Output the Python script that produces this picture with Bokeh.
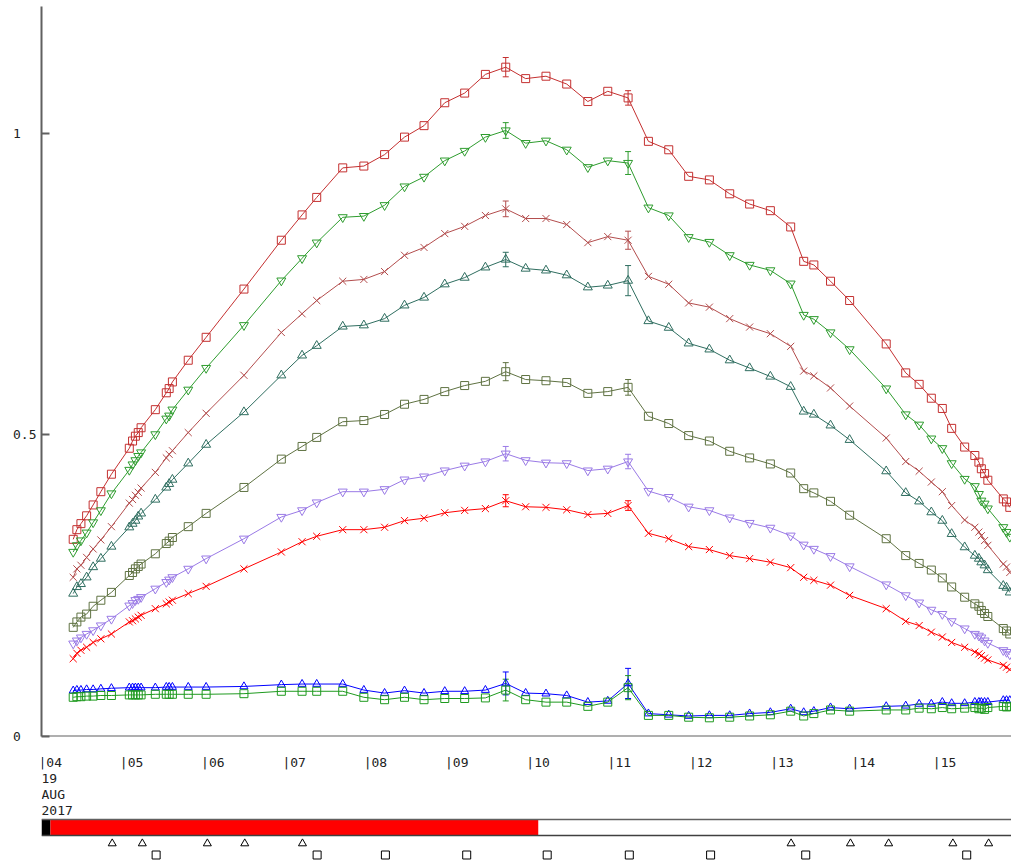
from bokeh.plotting import figure
from bokeh.models import (Range1d, ColumnDataSource, Whisker, TeeHead, Span, FixedTicker)
from bokeh.layouts import column
from bokeh.embed import file_html
from bokeh.resources import INLINE
from bokeh.core.properties import value

# ---------------- data ----------------
HOURS = [4.39, 4.435, 4.485, 4.555, 4.635, 4.73, 4.86, 5.08, 5.12, 5.155, 5.19, 5.225,
         5.40, 5.535, 5.57, 5.61, 5.805, 6.025, 6.49,
         6.95, 7.205, 7.385, 7.705, 7.965, 8.22, 8.465, 8.705, 8.96, 9.205, 9.46, 9.71,
         9.955, 10.205, 10.46, 10.72, 10.965, 11.215,
         11.465, 11.715, 11.96, 12.215, 12.465, 12.71, 12.965, 13.215, 13.375, 13.50,
         13.705, 13.94, 14.39, 14.63, 14.795, 14.945, 15.08, 15.195, 15.355, 15.48,
         15.53, 15.56, 15.60, 15.64, 15.83, 15.87, 15.91]

S1 = [0.327, 0.343, 0.353, 0.366, 0.384, 0.406, 0.435, 0.478, 0.490, 0.498, 0.504, 0.512,
      0.542, 0.570, 0.577, 0.588, 0.624, 0.662, 0.742,
      0.823, 0.865, 0.894, 0.943, 0.946, 0.965, 0.994, 1.013, 1.051, 1.067, 1.098, 1.110,
      1.091, 1.095, 1.082, 1.053, 1.070, 1.059,
      0.987, 0.973, 0.929, 0.923, 0.900, 0.883, 0.872, 0.845, 0.788, 0.782, 0.755, 0.723,
      0.651, 0.603, 0.584, 0.561, 0.544, 0.511, 0.480, 0.466, 0.455, 0.444, 0.436, 0.425,
      0.394, 0.389, 0.380]
S2 = [0.306, 0.317, 0.325, 0.338, 0.355, 0.375, 0.403, 0.442, 0.451, 0.458, 0.465, 0.471,
      0.501, 0.527, 0.532, 0.542, 0.575, 0.611, 0.682,
      0.756, 0.793, 0.819, 0.861, 0.863, 0.881, 0.912, 0.928, 0.955, 0.971, 0.994, 1.005,
      0.984, 0.988, 0.973, 0.944, 0.955, 0.951,
      0.877, 0.864, 0.828, 0.820, 0.798, 0.782, 0.773, 0.751, 0.699, 0.692, 0.670, 0.642,
      0.577, 0.534, 0.517, 0.494, 0.478, 0.453, 0.427, 0.415, 0.402, 0.391, 0.386, 0.378,
      0.347, 0.339, 0.331]
S3 = [0.264, 0.278, 0.284, 0.297, 0.311, 0.326, 0.348, 0.387, 0.393, 0.400, 0.405, 0.412,
      0.438, 0.462, 0.468, 0.474, 0.504, 0.536, 0.599,
      0.670, 0.701, 0.723, 0.755, 0.758, 0.771, 0.798, 0.811, 0.834, 0.846, 0.864, 0.875,
      0.859, 0.859, 0.849, 0.819, 0.829, 0.823,
      0.763, 0.750, 0.719, 0.712, 0.693, 0.679, 0.668, 0.647, 0.606, 0.598, 0.578, 0.548,
      0.495, 0.456, 0.440, 0.422, 0.406, 0.383, 0.359, 0.347, 0.339, 0.333, 0.325, 0.317,
      0.286, 0.281, 0.272]
S4 = [0.237, 0.248, 0.253, 0.264, 0.281, 0.295, 0.315, 0.347, 0.353, 0.358, 0.365, 0.370,
      0.393, 0.413, 0.419, 0.426, 0.453, 0.484, 0.538,
      0.599, 0.632, 0.648, 0.680, 0.682, 0.693, 0.715, 0.728, 0.750, 0.761, 0.778, 0.791,
      0.776, 0.773, 0.765, 0.745, 0.748, 0.756,
      0.689, 0.678, 0.652, 0.642, 0.624, 0.611, 0.597, 0.580, 0.539, 0.534, 0.516, 0.492,
      0.440, 0.404, 0.390, 0.372, 0.358, 0.336, 0.314, 0.300, 0.295, 0.289, 0.284, 0.276,
      0.250, 0.247, 0.239]
S5 = [0.181, 0.190, 0.198, 0.203, 0.216, 0.226, 0.239, 0.267, 0.272, 0.278, 0.282, 0.286,
      0.303, 0.320, 0.324, 0.330, 0.348, 0.370, 0.413,
      0.460, 0.481, 0.496, 0.522, 0.524, 0.534, 0.551, 0.559, 0.572, 0.582, 0.589, 0.605,
      0.592, 0.590, 0.587, 0.569, 0.572, 0.579,
      0.531, 0.519, 0.499, 0.490, 0.473, 0.462, 0.452, 0.437, 0.411, 0.404, 0.390, 0.367,
      0.328, 0.300, 0.287, 0.276, 0.263, 0.248, 0.231, 0.220, 0.216, 0.209, 0.204, 0.199,
      0.179, 0.175, 0.170]
S6 = [0.154, 0.159, 0.164, 0.170, 0.176, 0.184, 0.195, 0.217, 0.221, 0.226, 0.228, 0.231,
      0.245, 0.256, 0.260, 0.264, 0.278, 0.295, 0.328,
      0.364, 0.375, 0.388, 0.406, 0.406, 0.410, 0.426, 0.431, 0.441, 0.449, 0.456, 0.469,
      0.458, 0.454, 0.453, 0.441, 0.444, 0.456,
      0.407, 0.397, 0.381, 0.375, 0.363, 0.354, 0.346, 0.333, 0.318, 0.311, 0.299, 0.282,
      0.252, 0.234, 0.222, 0.210, 0.203, 0.191, 0.179, 0.170, 0.167, 0.164, 0.159, 0.155,
      0.143, 0.140, 0.136]
S7 = [0.129, 0.138, 0.143, 0.148, 0.156, 0.162, 0.170, 0.190, 0.192, 0.195, 0.198, 0.201,
      0.212, 0.220, 0.223, 0.226, 0.237, 0.249, 0.278,
      0.306, 0.323, 0.332, 0.343, 0.343, 0.347, 0.358, 0.362, 0.371, 0.375, 0.378, 0.391,
      0.381, 0.380, 0.376, 0.368, 0.370, 0.383,
      0.337, 0.328, 0.315, 0.310, 0.300, 0.295, 0.289, 0.280, 0.264, 0.259, 0.251, 0.234,
      0.212, 0.191, 0.184, 0.173, 0.165, 0.156, 0.148, 0.140, 0.137, 0.134, 0.130, 0.127,
      0.118, 0.115, 0.111]
S8 = [0.076, 0.077, 0.077, 0.078, 0.078, 0.079, 0.080, 0.081, 0.081, 0.081, 0.081, 0.081,
      0.081, 0.082, 0.082, 0.082, 0.082, 0.082, 0.083,
      0.086, 0.087, 0.087, 0.087, 0.077, 0.072, 0.076, 0.072, 0.075, 0.075, 0.077, 0.088,
      0.072, 0.071, 0.068, 0.057, 0.059, 0.088,
      0.038, 0.036, 0.034, 0.035, 0.035, 0.038, 0.040, 0.046, 0.040, 0.042, 0.048, 0.046,
      0.050, 0.051, 0.054, 0.054, 0.057, 0.055, 0.055, 0.057, 0.057, 0.057, 0.057, 0.057,
      0.060, 0.060, 0.060]
S9 = [0.065, 0.066, 0.066, 0.067, 0.067, 0.068, 0.068, 0.069, 0.069, 0.069, 0.069, 0.069,
      0.070, 0.070, 0.070, 0.070, 0.070, 0.070, 0.071,
      0.075, 0.075, 0.075, 0.075, 0.065, 0.061, 0.065, 0.061, 0.063, 0.063, 0.064, 0.077,
      0.061, 0.057, 0.057, 0.050, 0.057, 0.081,
      0.035, 0.035, 0.032, 0.031, 0.032, 0.034, 0.036, 0.042, 0.034, 0.038, 0.044, 0.042,
      0.044, 0.044, 0.047, 0.046, 0.048, 0.046, 0.047, 0.048, 0.046, 0.047, 0.045, 0.048,
      0.050, 0.049, 0.050]

# error bars (half-widths) at two sample times
ERR_T = [9.71, 11.215]
E1 = [0.016, 0.012]
E2 = [0.013, 0.019]
E3 = [0.013, 0.015]
E4 = [0.012, 0.025]
E5 = [0.015, 0.013]
E6 = [0.012, 0.012]
E7 = [0.010, 0.008]
E8 = [0.019, 0.025]
E9 = [0.018, 0.020]

Y_TICKS = [0, 0.5, 1]
Y_TICK_LABELS = ["0", "0.5", "1"]
X_TICKS = [4, 5, 6, 7, 8, 9, 10, 11, 12, 13, 14, 15]
X_TICK_LABELS = ["|04", "|05", "|06", "|07", "|08", "|09", "|10", "|11", "|12", "|13", "|14", "|15"]
DATE_LINES = ["19", "AUG", "2017"]

STATE_START = [4.0, 4.11]
STATE_END = [4.11, 10.11]
STATE_COLORS = ["#000000", "#ff0000"]

TRI_T = [4.87, 5.24, 6.04, 6.50, 7.21, 13.22, 13.95, 14.42, 15.21, 15.65]
SQ_T = [5.41, 7.39, 8.23, 9.23, 10.22, 11.23, 12.23, 13.40, 15.38]

X_START, X_END = 4.0, 15.931
Y_START, Y_END = 0.0, 1.2106

SERIES = [
    (S1, E1, "#c43030", "square", 8),
    (S2, E2, "#2e9c2e", "inverted_triangle", 9),
    (S3, E3, "#b34d4d", "x", 10),
    (S4, E4, "#2f6e60", "triangle", 9),
    (S5, E5, "#5f7242", "square", 8),
    (S6, E6, "#9a7ae6", "inverted_triangle", 9),
    (S7, E7, "#ff0000", "x", 10),
    (S8, E8, "#0000ff", "triangle", 8),
    (S9, E9, "#1f9a1f", "square", 8),
]

FONT = "DejaVu Sans Mono"
AXIS_COLOR = "#606060"
TEXT_COLOR = "#222222"

# left-aligned look for the y labels: pad to equal width (monospace font)
width_max = max(len(s) for s in Y_TICK_LABELS)
y_overrides = {t: s + "\u00a0" * (width_max - len(s)) for t, s in zip(Y_TICKS, Y_TICK_LABELS)}

# ---------------- main plot ----------------
xr = Range1d(X_START, X_END)
p = figure(width=1011, height=744, x_range=xr, y_range=Range1d(Y_START, Y_END),
           output_backend="svg", toolbar_location=None, x_axis_location=None,
           min_border_left=41, min_border_right=0, min_border_top=6, min_border_bottom=8)
p.outline_line_color = None
p.grid.visible = False

ax = p.yaxis[0]
ax.ticker = FixedTicker(ticks=Y_TICKS)
ax.major_label_overrides = y_overrides
ax.major_label_text_font = FONT
ax.major_label_text_font_size = "13px"
ax.major_label_text_color = TEXT_COLOR
ax.major_label_standoff = 5
ax.major_tick_in = 8
ax.major_tick_out = 0
ax.minor_tick_in = 0
ax.minor_tick_out = 0
ax.axis_line_width = 2
ax.axis_line_color = AXIS_COLOR
ax.major_tick_line_width = 2
ax.major_tick_line_color = AXIS_COLOR

p.add_layout(Span(location=Y_START, dimension="width", line_color=AXIS_COLOR, line_width=2))

for vals, errs, color, marker, size in SERIES:
    src = ColumnDataSource(dict(t=HOURS, v=vals))
    p.line("t", "v", source=src, line_color=color, line_width=1)
    p.scatter("t", "v", source=src, marker=marker, size=size, line_color=color,
              fill_color=None, line_width=1)
    centers = [vals[HOURS.index(t)] for t in ERR_T]
    esrc = ColumnDataSource(dict(t=ERR_T,
                                 lo=[c - e for c, e in zip(centers, errs)],
                                 hi=[c + e for c, e in zip(centers, errs)]))
    p.add_layout(Whisker(source=esrc, base="t", lower="lo", upper="hi",
                         line_color=color, line_width=1,
                         upper_head=TeeHead(size=6, line_color=color, line_width=1),
                         lower_head=TeeHead(size=6, line_color=color, line_width=1)))

# ---------------- bottom band (time labels, state bar, events) ----------------
# y in this band is measured in pixels downward from the x-axis line
p2 = figure(width=1011, height=120, x_range=xr, y_range=Range1d(128, 8),
            output_backend="svg", toolbar_location=None,
            x_axis_location=None, y_axis_location=None,
            min_border_left=41, min_border_right=0, min_border_top=0, min_border_bottom=0)
p2.outline_line_color = None
p2.grid.visible = False

p2.text(x=X_TICKS, y=[25.5] * len(X_TICKS), text=X_TICK_LABELS, x_offset=-3,
        text_align="left", text_baseline="middle", text_font=value(FONT),
        text_font_size="13px", text_color=TEXT_COLOR)
p2.text(x=[X_START] * len(DATE_LINES), y=[41.5, 58, 74], text=DATE_LINES,
        text_align="left", text_baseline="middle", text_font=value(FONT),
        text_font_size="13px", text_color=TEXT_COLOR)

p2.quad(left=STATE_START, right=STATE_END, top=[83] * len(STATE_START),
        bottom=[99] * len(STATE_START), fill_color=STATE_COLORS, line_color=None)
p2.add_layout(Span(location=83, dimension="width", line_color=AXIS_COLOR, line_width=1.5))
p2.add_layout(Span(location=99, dimension="width", line_color="#404040", line_width=1.5))

p2.scatter(x=TRI_T, y=[107] * len(TRI_T), marker="triangle", size=8,
           fill_color=None, line_color="#000000", line_width=1)
p2.scatter(x=SQ_T, y=[118.5] * len(SQ_T), marker="square", size=8,
           fill_color=None, line_color="#000000", line_width=1)

layout = column(p, p2, spacing=0)
open("out.html", "w").write(file_html(layout, INLINE))
